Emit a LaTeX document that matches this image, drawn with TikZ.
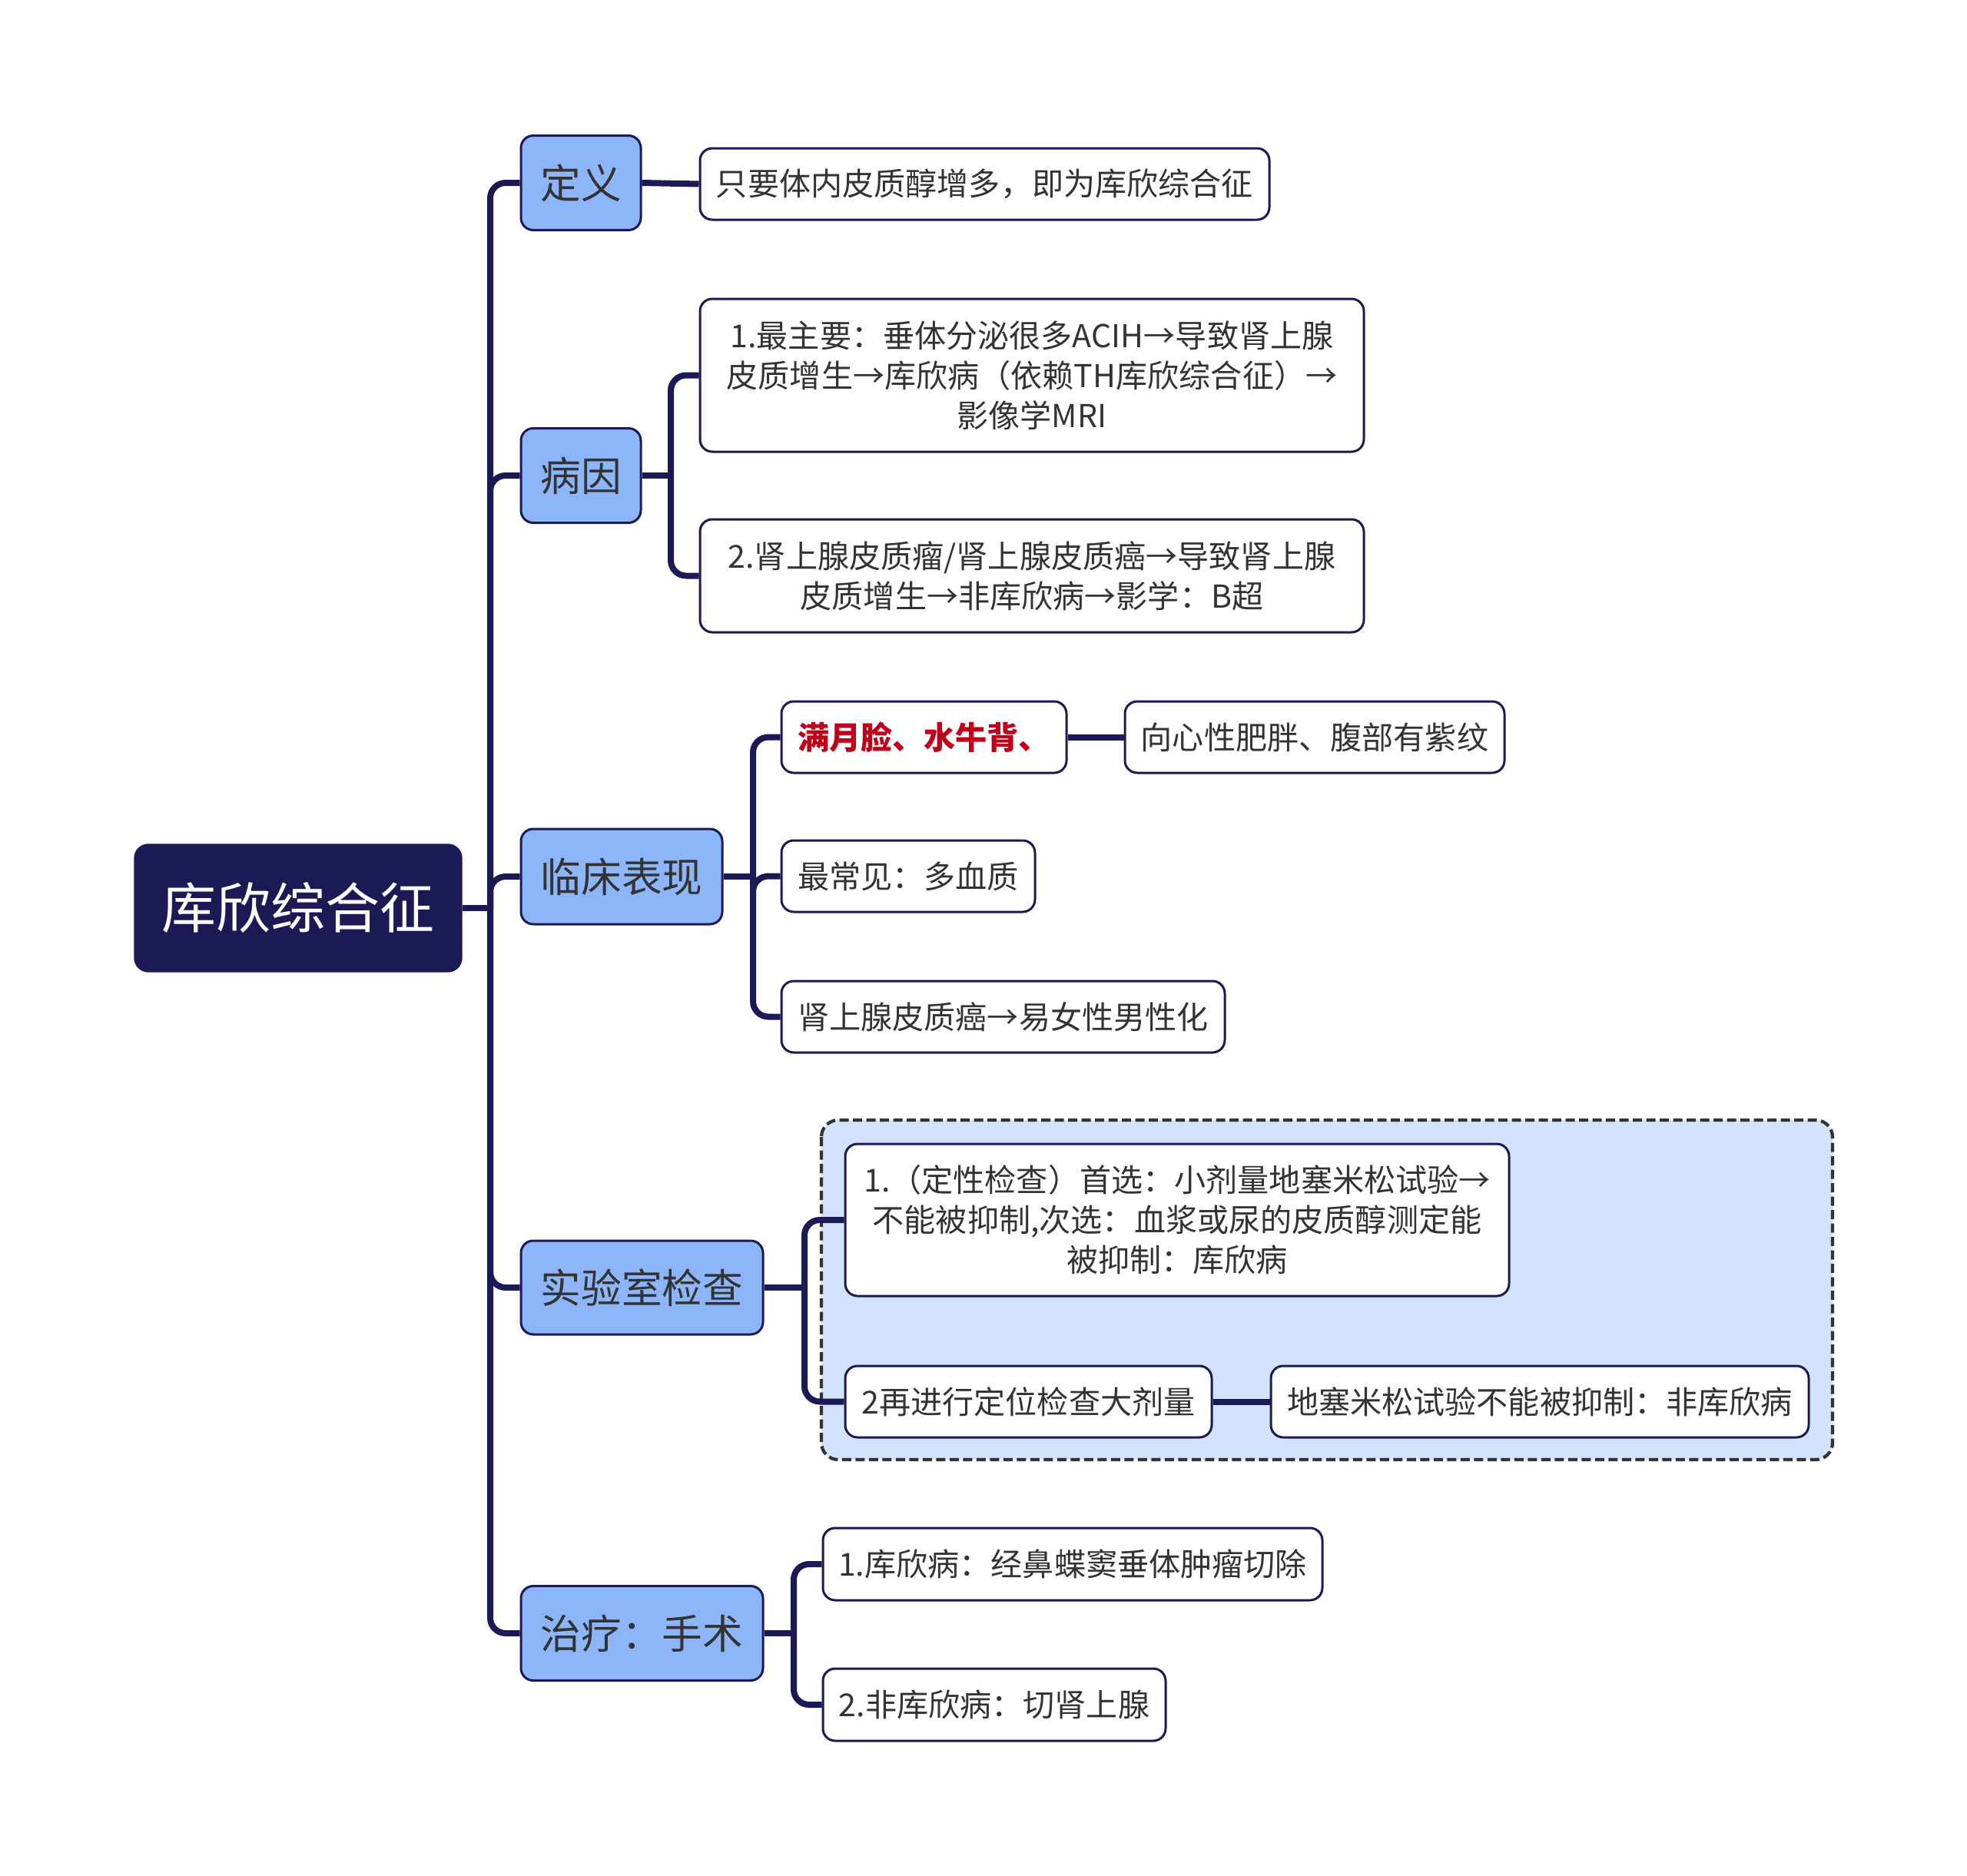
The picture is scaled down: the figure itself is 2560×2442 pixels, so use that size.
\documentclass[tikz,border=0pt]{standalone}
\usepackage{fontspec}
\setmainfont{Noto Sans CJK SC}
\usepackage{xcolor}
\usepackage{tikz}
\usetikzlibrary{positioning,calc}

\definecolor{navy}{HTML}{1C1A55}
\definecolor{topicblue}{HTML}{8DB6FA}
\definecolor{groupblue}{HTML}{D4E3FD}
\definecolor{txtgray}{HTML}{333333}
\definecolor{keyred}{HTML}{C0001A}

\begin{document}
\begin{tikzpicture}[x=0.1mm, y=-0.1mm, every node/.style={align=center, inner sep=0pt},
  rootbox/.style={draw=navy, fill=navy, rounded corners=1.8mm, text=white,
    font=\fontsize{20.2}{24}\selectfont},
  topic/.style={draw=navy, line width=0.3mm, fill=topicblue, rounded corners=1.6mm,
    text=txtgray, font=\fontsize{15}{18}\selectfont},
  leaf/.style={draw=navy, line width=0.3mm, fill=white, rounded corners=1.6mm,
    text=txtgray, font=\fontsize{11.7}{14.8}\selectfont},
  link/.style={draw=navy, line width=0.8mm, rounded corners=2mm}]
  \useasboundingbox (0,0) rectangle (2560,2442);

  % group behind the lab tests
  \draw[draw=black!80, fill=groupblue, line width=0.42mm, dash pattern=on 1.2mm off 0.55mm,
        rounded corners=2.2mm] (1069,1458) rectangle (2385,1900);

  % root and first level
  \node[rootbox, minimum width=42.6mm, minimum height=16.6mm] (root) at (388,1182) {库欣综合征};

  \node[topic, minimum width=15.6mm, minimum height=12.3mm] (def) at (756,238) {定义};
  \node[topic, minimum width=15.6mm, minimum height=12.3mm] (cause) at (756,619) {病因};
  \node[topic, minimum width=26.2mm, minimum height=12.4mm] (clin) at (809,1141) {临床表现};
  \node[topic, minimum width=31.5mm, minimum height=12.2mm] (lab) at (835.5,1676) {实验室检查};
  \node[topic, minimum width=31.5mm, minimum height=12.3mm] (treat) at (835.5,2126) {治疗：手术};

  % second level
  \node[leaf, minimum width=74.1mm, minimum height=9.3mm] (defl) at (1281.5,239.5)
      {只要体内皮质醇增多，即为库欣综合征};
  \node[leaf, minimum width=86.4mm, minimum height=19.9mm] (cause1) at (1343,488.5)
      {1.最主要：垂体分泌很多ACIH→导致肾上腺\\皮质增生→库欣病（依赖TH库欣综合征）→\\影像学MRI};
  \node[leaf, minimum width=86.4mm, minimum height=14.7mm] (cause2) at (1343,749.5)
      {2.肾上腺皮质瘤/肾上腺皮质癌→导致肾上腺\\皮质增生→非库欣病→影学：B超};

  \node[leaf, minimum width=37.1mm, minimum height=9.3mm, text=keyred, font=\fontsize{11.7}{14.8}\selectfont\bfseries]
      (moon) at (1202.5,959.5) {满月脸、水牛背、};
  \node[leaf, minimum width=49.4mm, minimum height=9.3mm] (obese) at (1711,959.5) {向心性肥胖、腹部有紫纹};
  \node[leaf, minimum width=33mm, minimum height=9.3mm] (common) at (1182,1140.5) {最常见：多血质};
  \node[leaf, minimum width=57.7mm, minimum height=9.3mm] (viril) at (1305.5,1323.5) {肾上腺皮质癌→易女性男性化};

  \node[leaf, minimum width=86.4mm, minimum height=19.8mm] (lab1) at (1532,1588)
      {1.（定性检查）首选：小剂量地塞米松试验→\\不能被抑制,次选：血浆或尿的皮质醇测定能\\被抑制：库欣病};
  \node[leaf, minimum width=47.7mm, minimum height=9.3mm] (lab2) at (1338.5,1824.5) {2再进行定位检查大剂量};
  \node[leaf, minimum width=70mm, minimum height=9.3mm] (dex) at (2004,1824.5) {地塞米松试验不能被抑制：非库欣病};

  \node[leaf, minimum width=65mm, minimum height=9.4mm] (treat1) at (1396,2036) {1.库欣病：经鼻蝶窦垂体肿瘤切除};
  \node[leaf, minimum width=44.6mm, minimum height=9.4mm] (treat2) at (1294,2219) {2.非库欣病：切肾上腺};

  % junctions
  \coordinate (hub) at (638,1182);
  \coordinate (causej) at (873,619);
  \coordinate (clinj) at (980,1141);
  \coordinate (labj) at (1047,1676);
  \coordinate (treatj) at (1033,2126);

  % connectors
  \draw[link] (root.east) -- (hub);
  \foreach \t in {def,cause,clin,lab,treat}
    \draw[link] (hub) |- (\t.west);

  \draw[link] (def.east) -- (defl.west);

  \draw[link] (cause.east) -- (causej);
  \foreach \t in {cause1,cause2}
    \draw[link] (causej) |- (\t.west);

  \draw[link] (clin.east) -- (clinj);
  \foreach \t in {moon,common,viril}
    \draw[link] (clinj) |- (\t.west);
  \draw[link] (moon.east) -- (obese.west);

  \draw[link] (lab.east) -- (labj);
  \foreach \t in {lab1,lab2}
    \draw[link] (labj) |- (\t.west);
  \draw[link] (lab2.east) -- (dex.west);

  \draw[link] (treat.east) -- (treatj);
  \foreach \t in {treat1,treat2}
    \draw[link] (treatj) |- (\t.west);
\end{tikzpicture}
\end{document}
